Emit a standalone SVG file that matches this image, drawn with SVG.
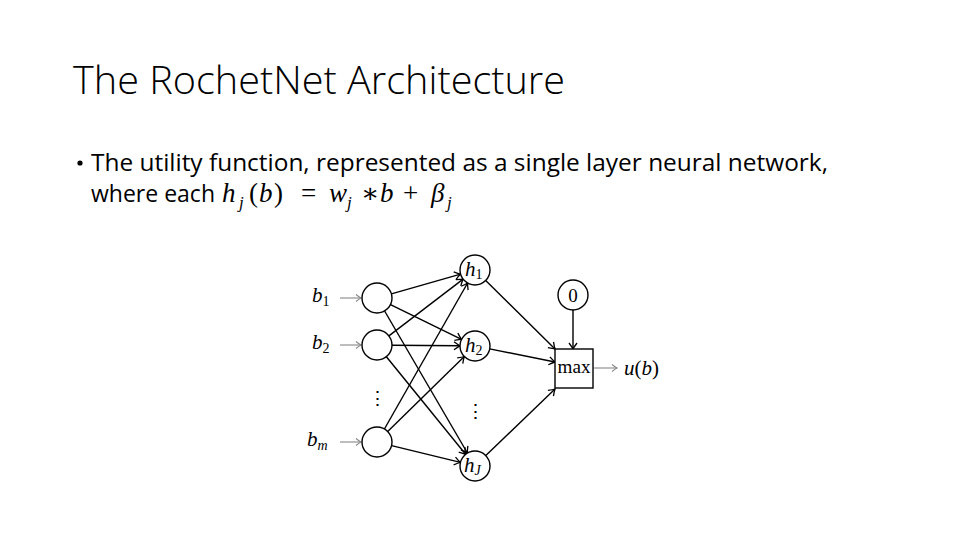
<svg xmlns="http://www.w3.org/2000/svg" width="960" height="540" viewBox="0 0 960 540">
<style>
.title{font-family:"Open Sans","Liberation Sans",sans-serif;font-weight:300;font-size:38px;fill:#000}
.body{font-family:"Open Sans","Liberation Sans",sans-serif;font-size:24px;fill:#000}
.math{font-family:"Liberation Serif","DejaVu Serif",serif;font-style:italic;font-size:27px;fill:#000}
.mup{font-family:"Liberation Serif","DejaVu Serif",serif;font-size:27px;fill:#000}
.msub{font-family:"Liberation Serif","DejaVu Serif",serif;font-style:italic;font-size:17px;fill:#000}
.lab{font-family:"Liberation Serif","DejaVu Serif",serif;font-style:italic;font-size:21px;fill:#000}
.labsub{font-family:"Liberation Serif","DejaVu Serif",serif;font-style:normal;font-size:14px;fill:#000}
.labsubi{font-family:"Liberation Serif","DejaVu Serif",serif;font-style:italic;font-size:14px;fill:#000}
.up{font-family:"Liberation Serif","DejaVu Serif",serif;font-size:19px;fill:#000}
.node{fill:#fff;stroke:#000;stroke-width:1.4}
.edge{stroke:#000;stroke-width:1.4;fill:none;marker-end:url(#ah)}
.gedge{stroke:#888;stroke-width:1.1;fill:none;marker-end:url(#gh)}
</style>
<defs>
<marker id="ah" markerUnits="userSpaceOnUse" markerWidth="12" markerHeight="12" viewBox="-8 -6 10 12" refX="0" refY="0" orient="auto">
<path d="M-6,-4 Q-2,-1 0,0 Q-2,1 -6,4" fill="none" stroke="#000" stroke-width="1.3"/>
</marker>
<marker id="gh" markerUnits="userSpaceOnUse" markerWidth="12" markerHeight="12" viewBox="-8 -6 10 12" refX="0" refY="0" orient="auto">
<path d="M-5,-3.5 Q-2,-1 0,0 Q-2,1 -5,3.5" fill="none" stroke="#888" stroke-width="1.1"/>
</marker>
</defs>
<rect width="960" height="540" fill="#fff"/>

<g id="title"><text class="title" x="73" y="94" textLength="492" lengthAdjust="spacingAndGlyphs">The RochetNet Architecture</text></g>

<g id="bullet">
<circle cx="80" cy="163" r="2.6" fill="#000"/>
<text class="body" x="91" y="171" textLength="737" lengthAdjust="spacingAndGlyphs">The utility function, represented as a single layer neural network,</text>
<text class="body" x="91" y="202" textLength="124" lengthAdjust="spacingAndGlyphs">where each</text>
<text class="math" x="222" y="202">h</text><text class="msub" x="239" y="208">j</text>
<text class="mup" x="249" y="202">(</text><text class="math" x="259" y="202">b</text><text class="mup" x="274" y="202">)</text>
<text class="mup" x="301" y="202">=</text>
<text class="math" x="329" y="202">w</text><text class="msub" x="347" y="208">j</text>
<text class="mup" x="361" y="202" font-size="20">∗</text>
<text class="math" x="380" y="202">b</text>
<text class="mup" x="403" y="202">+</text>
<text class="math" x="431" y="202">β</text><text class="msub" x="447" y="208">j</text>
</g>

<g id="connectors">
<line class="gedge" x1="340" y1="298" x2="361" y2="298"/>
<line class="gedge" x1="340" y1="345" x2="361" y2="345"/>
<line class="gedge" x1="340" y1="442" x2="361" y2="442"/>
<line class="edge" x1="391.4" y1="293.9" x2="460.6" y2="274.1"/>
<line class="edge" x1="390.5" y1="304.6" x2="461.5" y2="339.4"/>
<line class="edge" x1="384.6" y1="311" x2="467.4" y2="453"/>
<line class="edge" x1="388.9" y1="335.9" x2="463.1" y2="279.1"/>
<line class="edge" x1="392" y1="345.2" x2="460" y2="345.8"/>
<line class="edge" x1="386.4" y1="356.7" x2="465.6" y2="454.3"/>
<line class="edge" x1="384.4" y1="429" x2="467.6" y2="283"/>
<line class="edge" x1="387.7" y1="431.5" x2="464.3" y2="356.5"/>
<line class="edge" x1="391.6" y1="445.6" x2="460.4" y2="462.4"/>
<line class="edge" x1="485.7" y1="280.5" x2="555" y2="349"/>
<line class="edge" x1="489.7" y1="348.9" x2="555" y2="362"/>
<line class="edge" x1="485.8" y1="455.6" x2="555" y2="389"/>
<line class="edge" x1="573" y1="310" x2="573" y2="349"/>
<line class="gedge" x1="594" y1="368" x2="617" y2="368"/>
</g>

<g id="label-b1"><text class="lab" x="312" y="302">b<tspan class="labsub" dy="4">1</tspan></text></g>
<g id="label-b2"><text class="lab" x="312" y="349">b<tspan class="labsub" dy="4">2</tspan></text></g>
<g id="label-bm"><text class="lab" x="307" y="446">b<tspan class="labsubi" dy="4">m</tspan></text></g>

<g id="in1"><circle class="node" cx="377" cy="298" r="15"/></g>
<g id="in2"><circle class="node" cx="377" cy="345" r="15"/></g>
<g id="in-dots"><text class="up" x="377" y="405" text-anchor="middle" font-size="16">⋮</text></g>
<g id="inm"><circle class="node" cx="377" cy="442" r="15"/></g>

<g id="h1"><circle class="node" cx="475" cy="270" r="15"/><text class="lab" x="465" y="276">h<tspan class="labsub" dy="3">1</tspan></text></g>
<g id="h2"><circle class="node" cx="475" cy="346" r="15"/><text class="lab" x="465" y="352">h<tspan class="labsub" dy="3">2</tspan></text></g>
<g id="h-dots"><text class="up" x="475" y="418" text-anchor="middle" font-size="16">⋮</text></g>
<g id="hJ"><circle class="node" cx="475" cy="466" r="15"/><text class="lab" x="464" y="472">h<tspan class="labsubi" dy="3">J</tspan></text></g>

<g id="zero"><circle class="node" cx="573" cy="295" r="15"/><text class="up" x="573" y="302" text-anchor="middle" font-size="20">0</text></g>
<g id="max"><rect class="node" x="555" y="349" width="38" height="39"/><text class="up" x="574" y="373" text-anchor="middle" font-size="17" textLength="33" lengthAdjust="spacingAndGlyphs">max</text></g>
<g id="output"><text class="lab" x="624" y="375">u<tspan font-style="normal">(</tspan>b<tspan font-style="normal">)</tspan></text></g>
</svg>
